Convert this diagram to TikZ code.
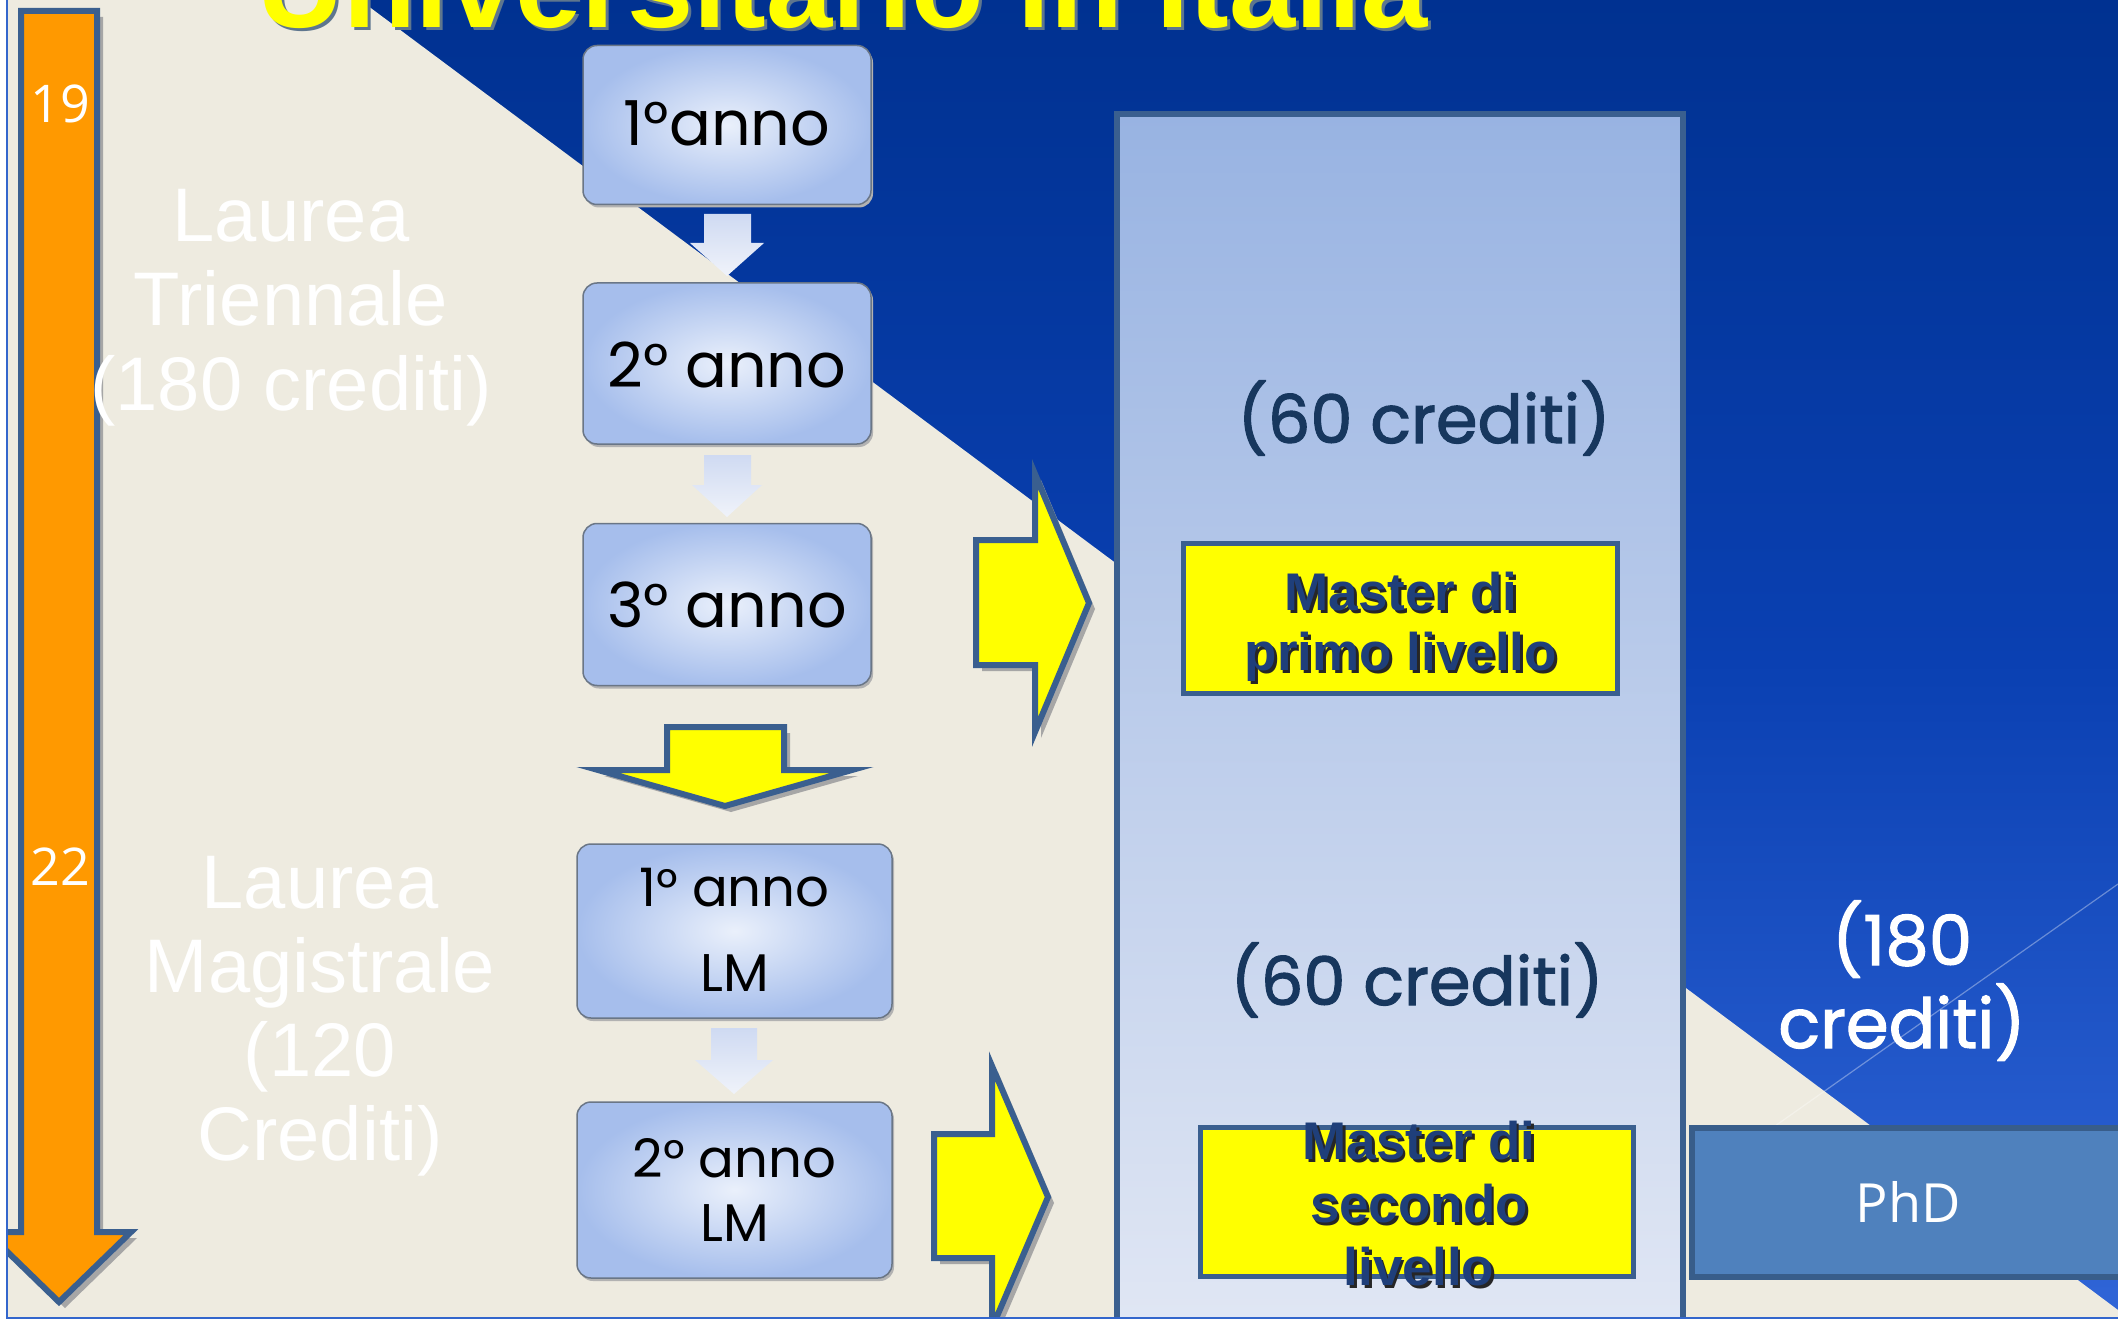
\documentclass[tikz,border=0pt]{standalone}
\usepackage{fontspec}
\setmainfont{Liberation Sans}
\newfontfamily\pop{Poppins}
\newfontfamily\popb[FakeBold=1.6]{Poppins}
\newfontfamily\ops{Open Sans}
\usetikzlibrary{shadows}
\definecolor{beige}{HTML}{EEEBE0}
\definecolor{bdark}{HTML}{003190}
\definecolor{bmid}{HTML}{0A40B2}
\definecolor{blight}{HTML}{3166D8}
\definecolor{edge}{HTML}{3A5F8F}
\definecolor{navy}{HTML}{17375E}
\definecolor{mtext}{HTML}{1F3F7A}
\definecolor{phdfill}{HTML}{4F81BD}
\definecolor{phdedge}{HTML}{385D8A}
\definecolor{orng}{HTML}{FF9900}
\definecolor{frameblue}{HTML}{3366CC}
\definecolor{lboxin}{HTML}{EAF0FB}
\definecolor{lboxout}{HTML}{A6BEEC}
\definecolor{lboxedge}{HTML}{6A7686}
\definecolor{larrtop}{HTML}{CFDAF2}
\definecolor{larrbot}{HTML}{F0F3FA}
\definecolor{bigtop}{HTML}{98B3E2}
\definecolor{bigbot}{HTML}{E1E7F4}
\definecolor{titleshadow}{HTML}{5E768E}
\definecolor{ylw}{HTML}{FFFF00}
\tikzset{
  txt/.style={inner sep=0pt, outer sep=0pt, anchor=base},
  lbox/.style={rounded corners=14pt, draw=lboxedge, line width=1.5pt,
    inner color=lboxin, outer color=lboxout,
    drop shadow={shadow xshift=2pt, shadow yshift=-3pt, fill=gray!60, opacity=1}},
  larrow/.style={top color=larrtop, bottom color=larrbot, draw=none},
  yarrow/.style={fill=ylw, draw=edge, line width=6pt, line join=miter},
  arrshadow/.style={fill=gray!70},
  ybox/.style={fill=ylw, draw=edge, line width=5pt, inner sep=0pt},
  lauretxt/.style={txt, text=white, font=\fontsize{76}{84}\selectfont},
  boxtxt/.style={txt, text=black, font=\pop\fontsize{62}{70}\selectfont},
  boxtxts/.style={txt, text=black, font=\pop\fontsize{53}{60}\selectfont},
  mastxt/.style={txt, text=mtext, font=\bfseries\fontsize{53}{62}\selectfont},
  masshadow/.style={txt, text=black!85, font=\bfseries\fontsize{53}{62}\selectfont},
  agetxt/.style={txt, text=white, font=\ops\fontsize{52}{60}\selectfont},
  credtxt/.style={txt, text=navy, font=\popb\fontsize{67}{76}\selectfont},
}
\begin{document}
\begin{tikzpicture}[x=1pt,y=-1pt]
\useasboundingbox (0,0) rectangle (2118,1321);
\fill[white] (0,0) rectangle (2118,1321);
\begin{scope}
\clip (8,-10) rectangle (2130,1318);
% background
\shade[top color=bdark, bottom color=blight, middle color=bmid] (0,-10) rectangle (2130,1330);
\fill[beige] (360,0) -- (2118,1310) -- (2130,1330) -- (0,1330) -- (0,0) -- cycle;
\draw[white, opacity=0.35, line width=1.2pt] (2118,884) -- (1690,1186);

% title
\node[anchor=base west, inner sep=0pt, text=titleshadow, font=\bfseries\fontsize{119}{119}\selectfont] (titles) at (260,31) {Universitario in Italia};
\node[anchor=base west, inner sep=0pt, text=ylw, font=\bfseries\fontsize{119}{119}\selectfont] (title) at (257,28) {Universitario in Italia};

% orange age arrow
\fill[arrshadow] (27,17) -- (103,17) -- (103,1238) -- (137,1238) -- (65,1308) -- (-7,1238) -- (27,1238) -- cycle;
\draw[fill=orng, draw=edge, line width=6pt, line join=miter] (21,11) -- (97,11) -- (97,1232) -- (131,1232) -- (59,1302) -- (-13,1232) -- (21,1232) -- cycle;
\node[agetxt] (a19) at (60,123) {19};
\node[agetxt] (a22) at (60,885) {22};

% left labels
\node[lauretxt] (lt1) at (291,242) {Laurea};
\node[lauretxt] (lt2) at (291,326) {Triennale};
\node[lauretxt] (lt3) at (291,410) {(180 crediti)};
\node[lauretxt] (lm1) at (320,908) {Laurea};
\node[lauretxt] (lm2) at (320,992) {Magistrale};
\node[lauretxt] (lm3) at (320,1076) {(120};
\node[lauretxt] (lm4) at (320,1160) {Crediti)};

% year boxes
\node[lbox, minimum width=288pt, minimum height=159pt] (y1) at (727,125) {};
\node[lbox, minimum width=288pt, minimum height=161pt] (y2) at (727,363.5) {};
\node[lbox, minimum width=288pt, minimum height=162pt] (y3) at (727,604.5) {};
\node[lbox, minimum width=315pt, minimum height=174pt] (y4) at (734.5,931) {};
\node[lbox, minimum width=315pt, minimum height=176pt] (y5) at (734.5,1190) {};
\node[boxtxt] (t1) at (727,146) {1°anno};
\node[boxtxt] (t2) at (727,388) {2° anno};
\node[boxtxt] (t3) at (727,627) {3° anno};
\node[boxtxts] (t4a) at (734.5,906) {1° anno};
\node[boxtxts] (t4b) at (734.5,991) {LM};
\node[boxtxts] (t5a) at (734.5,1177) {2° anno};
\node[boxtxts] (t5b) at (734.5,1241) {LM};

% light down arrows between year boxes
\path[larrow] (704,214) -- (751,214) -- (751,243) -- (764,243) -- (727,276) -- (690,243) -- (704,243) -- cycle;
\path[larrow] (704,455) -- (751,455) -- (751,485) -- (762,485) -- (727,517) -- (692,485) -- (704,485) -- cycle;
\path[larrow] (711,1028) -- (757,1028) -- (757,1060) -- (773,1060) -- (734,1094) -- (695,1060) -- (711,1060) -- cycle;

% big yellow down arrow
\fill[arrshadow] (673,733) -- (790,733) -- (790,776) -- (858,776) -- (731,812) -- (604,776) -- (673,776) -- cycle;
\draw[yarrow] (667,727) -- (784,727) -- (784,770) -- (852,770) -- (725,806) -- (598,770) -- (667,770) -- cycle;

% big master box
\node[draw=edge, line width=6pt, top color=bigtop, bottom color=bigbot, minimum width=566pt, minimum height=1226pt, inner sep=0pt] (big) at (1400,727) {};

% right yellow arrows
\fill[arrshadow] (982,546) -- (1041,546) -- (1041,480) -- (1095,609) -- (1041,738) -- (1041,671) -- (982,671) -- cycle;
\draw[yarrow] (976,540) -- (1035,540) -- (1035,474) -- (1089,603) -- (1035,732) -- (1035,665) -- (976,665) -- cycle;
\fill[arrshadow] (940,1140) -- (998,1140) -- (998,1072) -- (1054,1203) -- (998,1334) -- (998,1264) -- (940,1264) -- cycle;
\draw[yarrow] (934,1134) -- (992,1134) -- (992,1066) -- (1048,1197) -- (992,1328) -- (992,1258) -- (934,1258) -- cycle;

% credits inside big box
\node[credtxt] (c60a) at (1424,443) {(60 crediti)};
\node[credtxt] (c60b) at (1417,1005) {(60 crediti)};

% master boxes
\node[ybox, minimum width=434pt, minimum height=150pt] (m1) at (1400.5,618.5) {};
\node[masshadow] (m1as) at (1403.5,613) {Master di};
\node[masshadow] (m1bs) at (1403.5,673) {primo livello};
\node[mastxt] (m1a) at (1401,610) {Master di};
\node[mastxt] (m1b) at (1401,670) {primo livello};

\node[ybox, minimum width=433pt, minimum height=149pt] (m2) at (1417,1202) {};
\node[masshadow] (m2as) at (1421.5,1162) {Master di};
\node[masshadow] (m2bs) at (1421.5,1225) {secondo};
\node[masshadow] (m2cs) at (1421.5,1288) {livello};
\node[mastxt] (m2a) at (1419,1159) {Master di};
\node[mastxt] (m2b) at (1419,1222) {secondo};
\node[mastxt] (m2c) at (1419,1285) {livello};

% PhD
\node[txt, text=white, font=\popb\fontsize{69}{78}\selectfont] (c180a) at (1902,965) {(180};
\node[txt, text=white, font=\popb\fontsize{69}{78}\selectfont] (c180b) at (1902,1048) {crediti)};
\node[fill=phdfill, draw=phdedge, line width=6pt, minimum width=438pt, minimum height=149pt, inner sep=0pt] (phd) at (1911,1202.5) {};
\node[txt, text=white, font=\ops\fontsize{54}{60}\selectfont] (phdt) at (1908,1222) {PhD};
\end{scope}
% slide frame
\draw[frameblue, line width=2pt] (7,0) -- (7,1318) -- (2118,1318);
\end{tikzpicture}
\end{document}
